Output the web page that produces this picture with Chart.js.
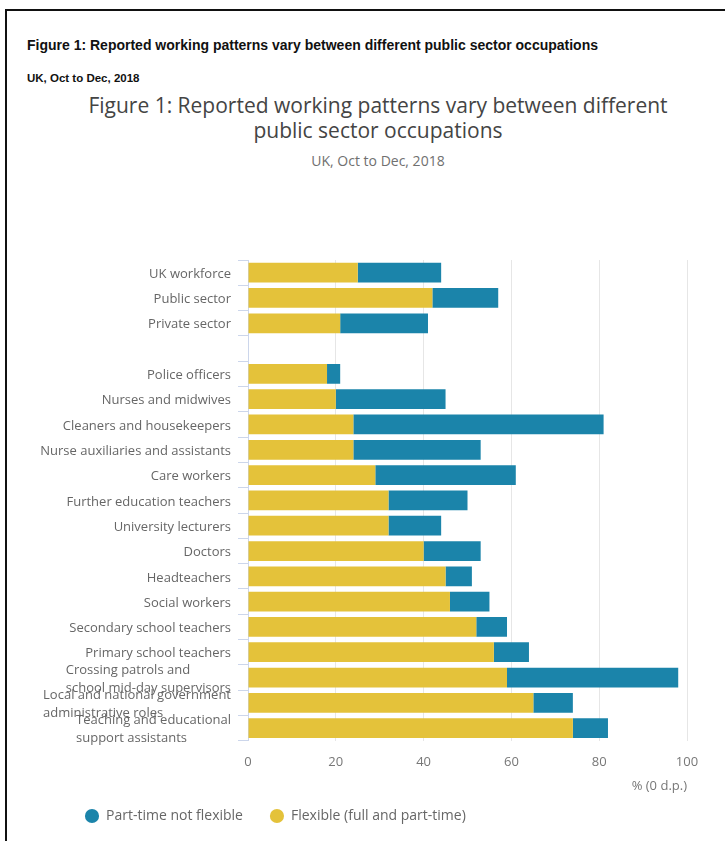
<!DOCTYPE html>
<html>
<head>
<meta charset="utf-8">
<script src="https://cdn.jsdelivr.net/npm/chart.js@4"></script>
<style>
    body { margin: 0; background: #fff; width: 725px; height: 841px; overflow: hidden; position: relative; }
    .frame { position: absolute; left: 5px; top: 9px; right: 0; bottom: 0; border-top: 2px solid #111; border-left: 2px solid #111; }
    .report-title { position: absolute; left: 27px; top: 37px; font: bold 14px "Liberation Sans", Arial, sans-serif; color: #111; white-space: nowrap; }
    .report-sub { position: absolute; left: 27px; top: 72px; font: bold 11.5px "Liberation Sans", Arial, sans-serif; color: #111; }
    .chart-title { position: absolute; left: 0; width: 756px; top: 93px; text-align: center; font: 21px "Open Sans", sans-serif; line-height: 25px; color: #444; }
    .chart-sub { position: absolute; left: 0; width: 756px; top: 152px; text-align: center; font: 14px "Open Sans", sans-serif; line-height: 17px; color: #707070; }
    #wrap { position: absolute; left: 0; top: 88px; width: 725px; height: 753px; }
</style>
</head>
<body>
<div class="frame"></div>
<div class="report-title">Figure 1: Reported working patterns vary between different public sector occupations</div>
<div class="report-sub">UK, Oct to Dec, 2018</div>
<div class="chart-title">Figure 1: Reported working patterns vary between different<br>public sector occupations</div>
<div class="chart-sub">UK, Oct to Dec, 2018</div>
<div id="wrap"><canvas id="chart"></canvas></div>

<script>
// categories (blank row splits the summary groups from the occupations)
const categories = [
    'UK workforce', 'Public sector', 'Private sector', '',
    'Police officers', 'Nurses and midwives', 'Cleaners and housekeepers',
    'Nurse auxiliaries and assistants', 'Care workers', 'Further education teachers',
    'University lecturers', 'Doctors', 'Headteachers', 'Social workers',
    'Secondary school teachers', 'Primary school teachers',
    ['Crossing patrols and', 'school mid-day supervisors'],
    ['Local and national government', 'administrative roles'],
    ['Teaching and educational', 'support assistants']
];
const flexible = [25, 42, 21, null, 18, 20, 24, 24, 29, 32, 32, 40, 45, 46, 52, 56, 59, 65, 74];
const partTimeNotFlexible = [19, 15, 20, null, 3, 25, 57, 29, 32, 18, 12, 13, 6, 9, 7, 8, 39, 9, 8];
const xTicks = [0, 20, 40, 60, 80, 100];

const FONT = '"Open Sans", "Noto Sans", sans-serif';
const LABEL_COLOR = '#666666';

// draws the category labels left-aligned inside a right-aligned block
const categoryLabels = {
    id: 'categoryLabels',
    afterDraw(chart) {
        const { ctx, chartArea } = chart;
        const yScale = chart.scales.y;
        ctx.save();
        ctx.font = '13px ' + FONT;
        ctx.fillStyle = LABEL_COLOR;
        ctx.textAlign = 'left';
        ctx.textBaseline = 'middle';
        categories.forEach((label, i) => {
            const lines = Array.isArray(label) ? label : [label];
            const w = Math.max(...lines.map(l => ctx.measureText(l).width));
            const x = chartArea.left - 17 - w;
            const cy = yScale.getPixelForValue(i) + 1.5;
            const lh = 18;
            lines.forEach((l, j) => {
                ctx.fillText(l, x, cy - (lines.length - 1) * lh / 2 + j * lh);
            });
        });
        ctx.restore();
    }
};

document.addEventListener('DOMContentLoaded', () => {
    const ctx = document.getElementById('chart').getContext('2d');
    new Chart(ctx, {
        type: 'bar',
        data: {
            labels: categories,
            datasets: [
                { label: 'Flexible (full and part-time)', data: flexible, backgroundColor: '#e4c23a' },
                { label: 'Part-time not flexible', data: partTimeNotFlexible, backgroundColor: '#1b84aa' }
            ]
        },
        options: {
            indexAxis: 'y',
            responsive: true,
            maintainAspectRatio: false,
            animation: false,
            barPercentage: 0.78,
            categoryPercentage: 1,
            layout: { padding: { left: 58, right: 38, top: 172, bottom: 8 } },
            scales: {
                x: {
                    stacked: true,
                    min: 0,
                    max: 100,
                    afterBuildTicks: (axis) => { axis.ticks = xTicks.map(v => ({ value: v })); },
                    grid: { color: '#e6e6e6', drawTicks: false },
                    border: { display: false },
                    ticks: { color: '#777', font: { family: FONT, size: 13 }, padding: 14 },
                    title: {
                        display: true,
                        text: '% (0 d.p.)',
                        align: 'end',
                        color: '#777',
                        font: { family: FONT, size: 13 },
                        padding: { top: -6, bottom: -12 }
                    }
                },
                y: {
                    stacked: true,
                    afterFit: (axis) => { axis.width = 190; },
                    grid: { offset: true, drawOnChartArea: false, color: '#ccd6eb', tickLength: 10 },
                    border: { color: '#ccd6eb' },
                    ticks: { display: false }
                }
            },
            plugins: {
                legend: {
                    position: 'bottom',
                    align: 'start',
                    reverse: true,
                    labels: {
                        usePointStyle: true,
                        pointStyle: 'circle',
                        boxWidth: 14,
                        boxHeight: 10,
                        padding: 27,
                        color: LABEL_COLOR,
                        font: { family: FONT, size: 14 }
                    }
                },
                tooltip: { enabled: false }
            }
        },
        plugins: [categoryLabels]
    });
});
</script>
</body>
</html>
